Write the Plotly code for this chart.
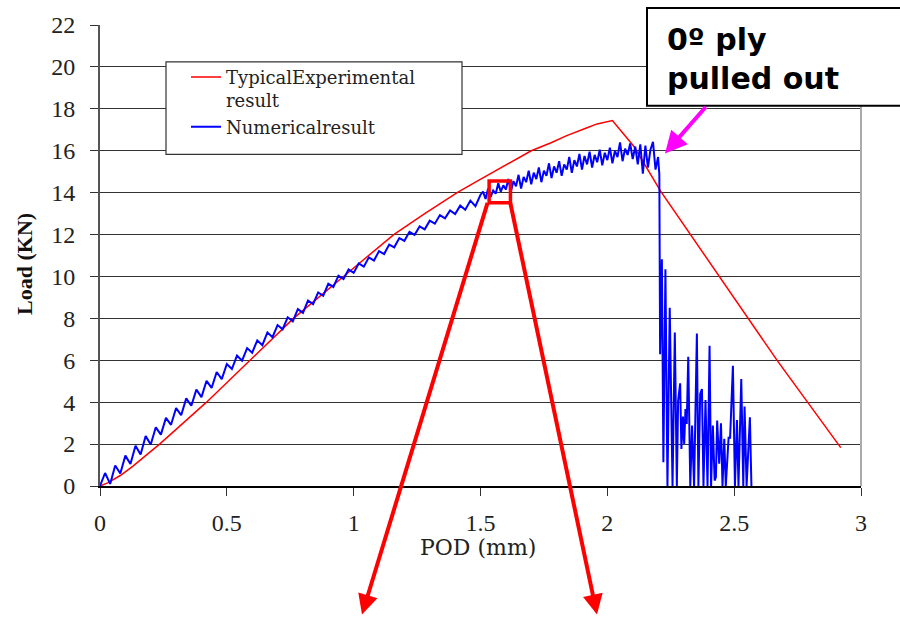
import plotly.graph_objects as go

# ---------------- data ----------------
exp_x = [0.00, 0.03, 0.08, 0.13, 0.18, 0.235, 0.42, 0.592, 0.763, 0.96, 1.06, 1.158,
         1.28, 1.408, 1.48, 1.553, 1.62, 1.70, 1.776, 1.84, 1.92, 1.96, 2.02,
         2.105, 2.21, 2.44, 2.553, 2.67, 2.92]
exp_y = [0.00, 0.15, 0.50, 0.95, 1.45, 2.00, 4.00, 6.00, 8.00, 10.00, 11.03, 12.00,
         13.00, 14.00, 14.50, 15.00, 15.47, 16.00, 16.37, 16.72, 17.10, 17.28, 17.44,
         16.20, 14.07, 10.00, 8.02, 5.98, 1.83]

num_rise_x = [0.00, 0.02, 0.04, 0.06, 0.08, 0.10, 0.12, 0.14, 0.16, 0.18,
              0.20, 0.22, 0.24, 0.26, 0.28, 0.30, 0.32, 0.34, 0.36, 0.38,
              0.40, 0.42, 0.44, 0.46, 0.48, 0.50, 0.52, 0.54, 0.56, 0.58,
              0.60, 0.62, 0.64, 0.66, 0.68, 0.70, 0.72, 0.74, 0.76, 0.78,
              0.80, 0.82, 0.84, 0.86, 0.88, 0.90, 0.92, 0.94, 0.96, 0.98,
              1.00, 1.02, 1.04, 1.06, 1.08, 1.10, 1.12, 1.14, 1.16, 1.18,
              1.20, 1.22, 1.24, 1.26, 1.28, 1.30, 1.32, 1.34, 1.36, 1.38,
              1.40, 1.42, 1.44, 1.46, 1.48, 1.50]
num_rise_y = [0.00, 0.62, 0.10, 0.98, 0.60, 1.45, 1.05, 1.92, 1.50, 2.38,
              1.98, 2.80, 2.45, 3.25, 2.92, 3.72, 3.38, 4.18, 3.83, 4.60,
              4.24, 5.02, 4.68, 5.44, 5.10, 5.82, 5.58, 6.22, 5.98, 6.58,
              6.36, 6.95, 6.72, 7.33, 7.10, 7.68, 7.48, 8.05, 7.86, 8.44,
              8.26, 8.85, 8.68, 9.24, 9.08, 9.65, 9.50, 10.04, 9.88, 10.33,
              10.17, 10.62, 10.47, 10.91, 10.76, 11.21, 11.07, 11.52, 11.39, 11.83,
              11.70, 12.13, 11.98, 12.39, 12.25, 12.66, 12.52, 12.93, 12.77, 13.15,
              12.98, 13.38, 13.18, 13.62, 13.35, 13.90]

num_peak_x = [1.51, 1.52, 1.53, 1.54, 1.55, 1.56, 1.57, 1.58, 1.59, 1.60,
              1.61, 1.62, 1.63, 1.64, 1.65, 1.66, 1.67, 1.68, 1.69, 1.70,
              1.71, 1.72, 1.73, 1.74, 1.75, 1.76, 1.77, 1.78, 1.79, 1.80,
              1.81, 1.82, 1.83, 1.84, 1.85, 1.86, 1.87, 1.88, 1.89, 1.90,
              1.91, 1.92, 1.93, 1.94, 1.95, 1.96, 1.97, 1.98, 1.99, 2.00,
              2.01, 2.02, 2.03, 2.04, 2.05, 2.06, 2.07, 2.08, 2.09, 2.10,
              2.11, 2.12, 2.13, 2.14, 2.15, 2.16, 2.17, 2.18, 2.19, 2.20, 2.205]
num_peak_y = [14.05, 13.70, 14.20, 13.80, 14.10, 13.95, 14.45, 14.05, 14.35, 14.15,
              14.65, 14.05, 14.55, 14.30, 14.85, 14.20, 14.75, 14.50, 15.05, 14.40,
              14.95, 14.65, 15.20, 14.50, 15.05, 14.80, 15.40, 14.70, 15.25, 14.95,
              15.50, 14.80, 15.35, 15.10, 15.70, 14.95, 15.55, 15.25, 15.85, 15.10,
              15.75, 15.35, 15.95, 15.20, 15.80, 15.45, 16.05, 15.30, 15.90, 15.55,
              16.15, 15.40, 16.00, 15.70, 16.40, 15.50, 16.10, 15.80, 16.35, 15.60,
              16.20, 15.35, 16.30, 14.90, 16.25, 15.20, 16.05, 16.42, 15.10, 15.70, 14.87]

num_tail_x = [2.208, 2.215, 2.221, 2.229, 2.237, 2.246, 2.257, 2.266, 2.274, 2.279,
              2.287, 2.292, 2.298, 2.303, 2.308, 2.313, 2.319, 2.327, 2.334, 2.342,
              2.353, 2.359, 2.366, 2.373, 2.379, 2.387, 2.395, 2.403, 2.409, 2.416,
              2.423, 2.428, 2.433, 2.441, 2.448, 2.454, 2.461, 2.467, 2.478, 2.484,
              2.495, 2.503, 2.511, 2.517, 2.528, 2.536, 2.541, 2.549, 2.562, 2.568]
num_tail_y = [6.29, 10.82, 1.13, 10.34, 0.00, 8.51, 0.00, 7.32, 0.00, 4.07,
              4.90, 1.77, 3.31, 2.01, 3.67, 2.96, 6.17, 0.00, 2.88, 0.00,
              7.28, 0.00, 4.39, 4.63, 0.00, 4.10, 0.00, 6.69, 0.00, 2.88,
              0.26, 0.42, 3.12, 1.06, 2.99, 0.00, 2.25, 0.00, 2.30, 2.30,
              5.74, 0.00, 3.15, 0.00, 5.10, 0.00, 3.79, 0.00, 3.28, 0.00]

x_ticks = [0, 0.5, 1, 1.5, 2, 2.5, 3]
x_tick_labels = ["0", "0.5", "1", "1.5", "2", "2.5", "3"]
y_ticks = [0, 2, 4, 6, 8, 10, 12, 14, 16, 18, 20, 22]
y_tick_labels = [str(v) for v in y_ticks]

series_names = ["TypicalExperimental<br>result", "Numericalresult"]
callout_text = "0º ply<br>pulled out"
x_title = "POD (mm)"
y_title = "Load (KN)"

# zoom box (data coords)
zoom_box = dict(x0=1.534, x1=1.618, y0=13.52, y1=14.55)

# ---------------- figure ----------------
num_x = num_rise_x + num_peak_x + num_tail_x
num_y = num_rise_y + num_peak_y + num_tail_y

fig = go.Figure()
fig.add_trace(go.Scatter(x=exp_x, y=exp_y, mode="lines", name=series_names[0],
                         line=dict(color="#ff0000", width=1.5)))
fig.add_trace(go.Scatter(x=num_x, y=num_y, mode="lines", name=series_names[1],
                         line=dict(color="#0000ff", width=2)))

serif = "Liberation Serif"
W, H = 900, 617
L, R, T, B = 100, 39, 23, 131
pw, ph = W - L - R, H - T - B


def px_x(p):
    return (p - L) / pw


def px_y(p):
    return (H - B - p) / ph


fig.update_layout(
    width=W, height=H,
    margin=dict(l=L, r=R, t=T, b=B, pad=0),
    paper_bgcolor="white", plot_bgcolor="white",
    showlegend=True,
    legend=dict(x=px_x(186), y=px_y(57), xanchor="left", yanchor="top",
                bgcolor="rgba(0,0,0,0)", borderwidth=0, valign="top",
                font=dict(family="DejaVu Serif", size=18, color="#222"),
                tracegroupgap=0),
    xaxis=dict(range=[0, 3], tickvals=x_ticks, ticktext=x_tick_labels,
               ticks="outside", ticklen=8, tickcolor="#333", tickwidth=1,
               showline=True, linecolor="#000", linewidth=1.5,
               showgrid=False, zeroline=False, ticklabelstandoff=6,
               tickfont=dict(family=serif, size=24, color="#222")),
    yaxis=dict(range=[0, 22], tickvals=y_ticks, ticktext=y_tick_labels,
               ticks="outside", ticklen=8, tickcolor="#333", tickwidth=1,
               showline=True, linecolor="#555", linewidth=2,
               showgrid=True, gridcolor="#333", gridwidth=1,
               zeroline=False, ticklabelstandoff=10,
               tickfont=dict(family=serif, size=24, color="#222")),
)

shapes = [
    # right border of plot area
    dict(type="line", xref="paper", yref="paper", x0=1, x1=1, y0=0, y1=1,
         line=dict(color="#aaaaaa", width=2), layer="above"),
    # legend box
    dict(type="rect", xref="paper", yref="paper",
         x0=px_x(166), x1=px_x(462), y0=px_y(153), y1=px_y(60),
         fillcolor="white", line=dict(color="#333", width=1.2), layer="above"),
    # callout box
    dict(type="rect", xref="paper", yref="paper",
         x0=px_x(647), x1=px_x(910), y0=px_y(104), y1=px_y(6),
         fillcolor="white", line=dict(color="#000", width=2), layer="above"),
    # red zoom box
    dict(type="rect", xref="x", yref="y", x0=zoom_box["x0"], x1=zoom_box["x1"],
         y0=zoom_box["y0"], y1=zoom_box["y1"],
         line=dict(color="#ff0000", width=3.5), layer="above"),
]
fig.update_layout(shapes=shapes)

annotations = [
    dict(text="<b>" + callout_text + "</b>", xref="paper", yref="paper",
         x=px_x(665), y=px_y(57), xanchor="left", yanchor="middle", align="left",
         showarrow=False, font=dict(family="DejaVu Sans", size=30, color="#000")),
    dict(text="", xref="paper", yref="paper", x=px_x(665), y=px_y(152),
         ax=42, ay=-48, showarrow=True, arrowhead=2, arrowsize=1.1, arrowwidth=4,
         arrowcolor="#ff00ff", standoff=0),
    dict(text="", xref="paper", yref="paper", x=px_x(362), y=px_y(615),
         ax=126, ay=-413, showarrow=True, arrowhead=2, arrowsize=1, arrowwidth=4,
         arrowcolor="#ff0000", standoff=0),
    dict(text="", xref="paper", yref="paper", x=px_x(597), y=px_y(615),
         ax=-87, ay=-413, showarrow=True, arrowhead=2, arrowsize=1, arrowwidth=4,
         arrowcolor="#ff0000", standoff=0),
    dict(text="<b>" + y_title + "</b>", xref="paper", yref="paper",
         x=px_x(25), y=px_y(263), xanchor="center", yanchor="middle",
         textangle=-90, showarrow=False,
         font=dict(family=serif, size=22, color="#111")),
    dict(text=x_title, xref="paper", yref="paper",
         x=px_x(478), y=px_y(548), xanchor="center", yanchor="middle",
         showarrow=False,
         font=dict(family="DejaVu Serif", size=22, color="#222")),
]
fig.update_layout(annotations=annotations)

fig.write_html("out.html")
